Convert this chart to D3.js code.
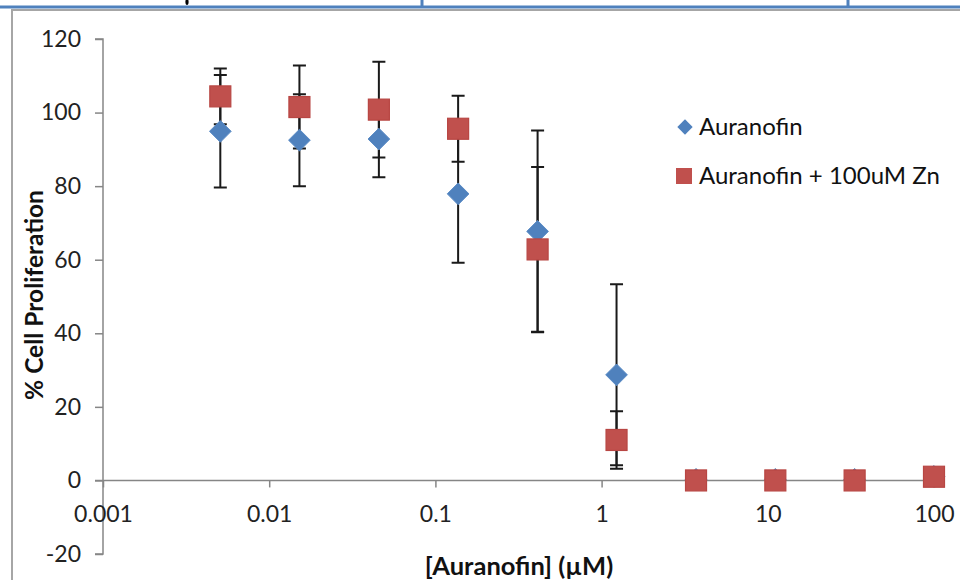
<!DOCTYPE html>
<html>
<head>
<meta charset="utf-8">
<script src="https://cdn.jsdelivr.net/npm/d3@7/dist/d3.min.js"></script>
<style>
  html, body { margin: 0; padding: 0; background: #fff; }
  svg { display: block; }
  text { font-family: Lato, "Open Sans", sans-serif; }
</style>
</head>
<body>
<svg id="chart" width="960" height="580"></svg>
<script>
// Auranofin concentrations (µM), 3-fold dilution series
const concentrations = [0.00508, 0.0152, 0.0457, 0.137, 0.412, 1.23, 3.70, 11.1, 33.3, 100];

// % cell proliferation, mean and error
const auranofinMean = [94.9, 92.5, 92.8, 77.9, 67.7, 28.7, 0.3, 0.3, 0.3, 1.1];
const auranofinErr  = [15.3, 12.5, 10.4, 18.7, 27.4, 24.6, 0.3, 0.3, 0.3, 0.3];
const zincMean      = [104.4, 101.5, 100.8, 95.6, 62.8, 11.0, 0.0, 0.0, 0.0, 1.0];
const zincErr       = [7.6, 11.3, 13.0, 9.0, 22.4, 7.8, 0.3, 0.3, 0.3, 0.3];

const seriesNames = ["Auranofin", "Auranofin + 100uM Zn"];
const xTicks = [0.001, 0.01, 0.1, 1, 10, 100];
const yTicks = [-20, 0, 20, 40, 60, 80, 100, 120];

const svg = d3.select("#chart");

// page furniture above the chart frame
svg.append("rect").attr("x", 0).attr("y", 5.5).attr("width", 960).attr("height", 3).attr("fill", "#4f81bd");
[422, 848].forEach(x => svg.append("rect").attr("x", x - 1.5).attr("y", 0).attr("width", 3).attr("height", 7).attr("fill", "#4f81bd"));
svg.append("ellipse").attr("cx", 187).attr("cy", 2).attr("rx", 1.6).attr("ry", 3).attr("fill", "#000");

// chart frame
svg.append("path").attr("d", "M12,580 V10 H960").attr("fill", "none").attr("stroke", "#a6a6a6").attr("stroke-width", 2);

const x = d3.scaleLog().domain([0.001, 100]).range([103, 934]);
const y = d3.scaleLinear().domain([-20, 120]).range([554, 39]);

// y axis
const yAxis = svg.append("g").attr("transform", `translate(${x(0.001)},0)`)
  .call(d3.axisLeft(y).tickValues(yTicks).tickSize(8).tickPadding(14).tickFormat(d => String(d)));
yAxis.select(".domain").attr("stroke", "#868686").attr("stroke-width", 1.5).attr("d", `M-8,${y(120)}H0V${y(-20)}H-8`);
yAxis.selectAll(".tick line").attr("stroke", "#868686").attr("stroke-width", 1.5);
yAxis.selectAll(".tick text").attr("font-size", 23).attr("fill", "#222").attr("font-family", "Lato, sans-serif");

// x axis at y = 0
const xAxis = svg.append("g").attr("transform", `translate(0,${y(0)})`)
  .call(d3.axisBottom(x).tickValues(xTicks).tickSize(7).tickPadding(18).tickFormat(d => String(d)));
xAxis.select(".domain").attr("stroke", "#868686").attr("stroke-width", 1.5).attr("d", `M${x(0.001) - 8},0H${x(100)}`);
xAxis.selectAll(".tick line").attr("stroke", "#868686").attr("stroke-width", 1.5);
xAxis.selectAll(".tick text").attr("font-size", 23).attr("fill", "#222").attr("font-family", "Lato, sans-serif");

// axis titles
svg.append("text").attr("x", 519).attr("y", 575).attr("text-anchor", "middle")
  .attr("font-size", 25.5).attr("font-weight", "bold").attr("fill", "#111").text("[Auranofin] (µM)");
svg.append("text").attr("transform", "translate(43,295) rotate(-90)").attr("text-anchor", "middle")
  .attr("font-size", 24.5).attr("font-weight", "bold").attr("fill", "#111").text("% Cell Proliferation");

const rows = [
  { mean: auranofinMean, err: auranofinErr },
  { mean: zincMean, err: zincErr }
].map(s => concentrations.map((c, i) => ({ c, m: s.mean[i], e: s.err[i] })));

// error bars
const eb = svg.append("g").attr("stroke", "#1a1a1a").attr("stroke-width", 2).attr("fill", "none");
rows.forEach(pts => {
  pts.forEach(p => {
    const cx = x(p.c);
    eb.append("path").attr("d",
      `M${cx},${y(p.m + p.e)}V${y(p.m - p.e)}` +
      `M${cx - 6.5},${y(p.m + p.e)}H${cx + 6.5}` +
      `M${cx - 6.5},${y(p.m - p.e)}H${cx + 6.5}`);
  });
});

// diamonds
svg.append("g").selectAll("path").data(rows[0]).join("path")
  .attr("d", d3.symbol().type(d3.symbolDiamond2).size(300))
  .attr("transform", d => `translate(${x(d.c)},${y(d.m)})`)
  .attr("fill", "#4f81bd").attr("stroke", "#5b8cc6").attr("stroke-width", 1);

// squares
svg.append("g").selectAll("rect").data(rows[1]).join("rect")
  .attr("x", d => x(d.c) - 10.5).attr("y", d => y(d.m) - 10.5)
  .attr("width", 21).attr("height", 21)
  .attr("fill", "#c0504d").attr("stroke", "#b84643").attr("stroke-width", 1.2);

// legend
const lg = svg.append("g");
lg.append("path").attr("d", d3.symbol().type(d3.symbolDiamond2).size(150))
  .attr("transform", "translate(685,127)").attr("fill", "#4f81bd");
lg.append("rect").attr("x", 676).attr("y", 168).attr("width", 16).attr("height", 16).attr("fill", "#c0504d");
lg.selectAll("text").data(seriesNames).join("text")
  .attr("x", 699).attr("y", (d, i) => 135 + i * 49)
  .attr("font-size", 24).attr("fill", "#111").text(d => d);
</script>
</body>
</html>
